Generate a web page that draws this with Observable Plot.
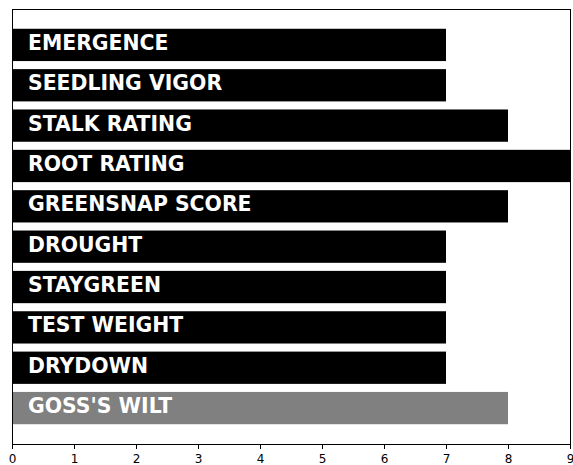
<!DOCTYPE html>
<html>
<head>
<meta charset="utf-8">
<script src="https://cdn.jsdelivr.net/npm/d3@7"></script>
<script src="https://cdn.jsdelivr.net/npm/@observablehq/plot@0.6"></script>
<style>
  html, body { margin: 0; padding: 0; background: #fff; }
  svg { display: block; }
</style>
</head>
<body>
<div id="chart"></div>
<script>
const traits = ["EMERGENCE", "SEEDLING VIGOR", "STALK RATING", "ROOT RATING", "GREENSNAP SCORE", "DROUGHT", "STAYGREEN", "TEST WEIGHT", "DRYDOWN", "GOSS'S WILT"];
const scores = [7, 7, 8, 9, 8, 7, 7, 7, 7, 8];
const highlight = [false, false, false, false, false, false, false, false, false, true];
const xTicks = [0, 1, 2, 3, 4, 5, 6, 7, 8, 9];

const data = traits.map((t, i) => ({trait: t, score: scores[i], hl: highlight[i]}));

const chart = Plot.plot({
  width: 573,
  height: 465,
  marginLeft: 12,
  marginRight: 3,
  marginTop: 9,
  marginBottom: 21,
  style: {fontFamily: "DejaVu Sans", fontSize: "12px", background: "#fff", color: "#000"},
  x: {domain: [0, 9], ticks: xTicks, tickSize: 5, tickPadding: 5, label: null, line: false},
  y: {domain: traits, paddingInner: 0.2, paddingOuter: 0.49, round: false, axis: null},
  marks: [
    Plot.barX(data, {x: "score", y: "trait", fill: d => d.hl ? "#808080" : "#000000"}),
    Plot.text(data, {
      x: 0, y: "trait", text: "trait", textAnchor: "start", dx: 15.5, dy: -2,
      fill: "#fff", fontSize: 20.4, fontWeight: "bold", fontFamily: "DejaVu Sans"
    }),
    Plot.frame({stroke: "#000", strokeWidth: 1})
  ]
});
document.getElementById("chart").appendChild(chart);
</script>
</body>
</html>
